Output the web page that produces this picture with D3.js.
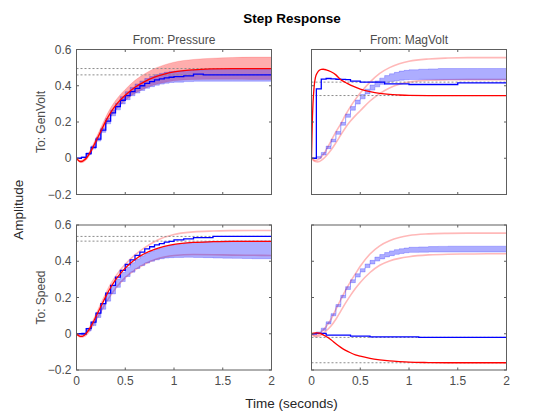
<!DOCTYPE html>
<html><head><meta charset="utf-8">
<script src="https://cdn.jsdelivr.net/npm/d3@7"></script>
<style>body{margin:0;background:#fff}svg{display:block}text{font-family:"Liberation Sans",Arial,sans-serif}</style>
</head><body><svg id="c" width="560" height="420"></svg>
<script>
// ---- data ----
const timeSmooth = [0,0.01,0.02,0.04,0.06,0.08,0.1,0.12,0.15,0.2,0.25,0.3,0.35,0.4,0.45,0.5,0.6,0.7,0.8,0.9,1.0,1.2,1.4,1.6,1.8,2.0];
const timeFast = [0,0.005,0.01,0.015,0.02,0.03,0.04,0.06,0.08,0.1,0.12,0.15,0.2,0.25,0.3,0.35,0.4,0.5,0.6,0.7,0.8,0.9,1.0,1.2,1.5,2.0];
const timeStep = [0,0.05,0.1,0.15,0.2,0.25,0.3,0.35,0.4,0.45,0.5,0.55,0.6,0.65,0.7,0.75,0.8,0.85,0.9,0.95,1.0,1.1,1.2,1.3,1.4,1.5,1.6,1.7,1.8,1.9,2.0];
const inputs = ["Pressure","MagVolt"];
const outputs = ["GenVolt","Speed"];
const xTicks = [0,0.5,1,1.5,2];
const yTicks = [-0.2,0,0.2,0.4,0.6];

// Pressure -> GenVolt
const gvPressRed   = [0,-0.006,-0.012,-0.018,-0.017,-0.01,0,0.015,0.042,0.095,0.15,0.205,0.252,0.29,0.322,0.348,0.392,0.423,0.447,0.464,0.476,0.488,0.493,0.495,0.495,0.495];
const gvPressRedHi = [0,-0.004,-0.008,-0.012,-0.01,-0.002,0.01,0.026,0.055,0.112,0.17,0.228,0.278,0.318,0.352,0.38,0.43,0.466,0.495,0.515,0.53,0.545,0.552,0.556,0.558,0.558];
const gvPressRedLo = [0,-0.008,-0.016,-0.024,-0.024,-0.018,-0.01,0.004,0.03,0.08,0.132,0.184,0.228,0.264,0.294,0.318,0.358,0.385,0.405,0.418,0.427,0.434,0.436,0.436,0.435,0.435];
const gvPressBlue   = [0,0.005,0.025,0.06,0.105,0.155,0.205,0.25,0.285,0.32,0.345,0.368,0.385,0.4,0.413,0.423,0.432,0.438,0.443,0.447,0.45,0.455,0.464,0.46,0.46,0.46,0.46,0.46,0.46,0.46,0.46];
const gvPressBlueHi = [0,0.008,0.03,0.068,0.115,0.167,0.22,0.266,0.303,0.34,0.367,0.391,0.41,0.426,0.44,0.451,0.461,0.468,0.474,0.478,0.481,0.485,0.488,0.489,0.49,0.49,0.49,0.49,0.49,0.49,0.49];
const gvPressBlueLo = [0,0.002,0.02,0.052,0.095,0.143,0.19,0.234,0.267,0.3,0.323,0.345,0.36,0.374,0.386,0.395,0.403,0.409,0.414,0.418,0.42,0.423,0.425,0.425,0.425,0.425,0.425,0.425,0.425,0.425,0.425];
const gvPressFinal = [0.495,0.46];

// MagVolt -> GenVolt
const gvMagRed = [0,0.13,0.23,0.3,0.345,0.41,0.445,0.472,0.485,0.49,0.491,0.488,0.477,0.46,0.433,0.418,0.403,0.382,0.368,0.358,0.352,0.349,0.347,0.346,0.346,0.346];
const gvMagBlue = [0,0.383,0.437,0.44,0.438,0.436,0.435,0.434,0.425,0.425,0.42,0.42,0.42,0.42,0.42,0.41,0.41,0.41,0.41,0.41,0.407,0.407,0.407,0.407,0.407,0.416,0.416,0.416,0.416,0.416,0.416];
const gvMagBandLo = [0,0,0.018,0.053,0.09,0.132,0.182,0.226,0.265,0.299,0.328,0.355,0.376,0.394,0.408,0.418,0.424,0.428,0.431,0.433,0.434,0.435,0.435,0.435,0.435,0.435,0.435,0.435,0.435,0.435,0.435];
const gvMagBandHi = [0,0.01,0.032,0.067,0.105,0.148,0.198,0.244,0.285,0.321,0.352,0.381,0.404,0.426,0.442,0.456,0.466,0.474,0.481,0.485,0.488,0.491,0.493,0.495,0.495,0.495,0.495,0.495,0.495,0.495,0.495];
const gvMagPinkHi = [0,-0.004,-0.008,-0.012,-0.01,-0.004,0.006,0.02,0.045,0.095,0.145,0.19,0.24,0.285,0.325,0.36,0.42,0.468,0.5,0.521,0.535,0.548,0.553,0.555,0.555,0.555];
const gvMagPinkLo = [0,-0.006,-0.012,-0.018,-0.02,-0.018,-0.012,-0.004,0.012,0.045,0.085,0.128,0.17,0.205,0.235,0.262,0.316,0.357,0.388,0.408,0.42,0.43,0.433,0.434,0.434,0.434];
const gvMagFinal = [0.42,0.346];

// Pressure -> Speed
const spPressRed = [0,-0.005,-0.01,-0.015,-0.014,-0.008,0.002,0.016,0.042,0.095,0.15,0.205,0.255,0.297,0.332,0.362,0.41,0.443,0.466,0.482,0.493,0.504,0.508,0.51,0.51,0.51];
const spPressBlue = [0,0,0.028,0.064,0.114,0.166,0.224,0.267,0.312,0.35,0.382,0.408,0.432,0.45,0.468,0.48,0.49,0.497,0.505,0.51,0.518,0.524,0.53,0.53,0.537,0.537,0.537,0.537,0.537,0.537,0.537];
const spPressBandLo = [0,-0.005,0.015,0.045,0.09,0.135,0.18,0.22,0.256,0.288,0.316,0.34,0.36,0.376,0.39,0.4,0.408,0.414,0.418,0.42,0.421,0.422,0.421,0.42,0.418,0.417,0.416,0.415,0.414,0.414,0.414];
const spPressBandHi = [0,0.005,0.03,0.065,0.115,0.165,0.218,0.262,0.302,0.338,0.367,0.392,0.413,0.43,0.445,0.457,0.467,0.475,0.482,0.488,0.493,0.5,0.505,0.508,0.51,0.512,0.512,0.512,0.512,0.512,0.512];
const spPressPinkHi = [0,-0.004,-0.008,-0.012,-0.01,-0.004,0.006,0.022,0.05,0.105,0.163,0.22,0.272,0.315,0.352,0.383,0.435,0.475,0.508,0.532,0.548,0.562,0.567,0.569,0.57,0.57];
const spPressPinkLo = [0,-0.006,-0.012,-0.018,-0.018,-0.014,-0.006,0.006,0.03,0.075,0.122,0.17,0.212,0.25,0.282,0.31,0.352,0.385,0.408,0.423,0.432,0.437,0.436,0.434,0.433,0.432];
const spPressFinal = [0.537,0.511];

// MagVolt -> Speed
const spMagRed = [0,0.002,0.003,0.005,0.005,0.003,-0.001,-0.006,-0.015,-0.033,-0.055,-0.075,-0.092,-0.105,-0.116,-0.124,-0.136,-0.144,-0.15,-0.154,-0.157,-0.159,-0.16,-0.16,-0.16,-0.16];
const spMagBlue = [0,0.002,0.002,-0.008,-0.008,-0.008,-0.008,-0.008,-0.013,-0.013,-0.013,-0.013,-0.017,-0.017,-0.017,-0.017,-0.017,-0.017,-0.017,-0.017,-0.017,-0.02,-0.02,-0.02,-0.02,-0.02,-0.02,-0.02,-0.02,-0.02,-0.02];
const spMagBandLo = [0,0,0.019,0.054,0.099,0.149,0.198,0.244,0.282,0.313,0.341,0.365,0.385,0.401,0.413,0.424,0.431,0.438,0.443,0.447,0.449,0.45,0.451,0.451,0.451,0.451,0.451,0.451,0.451,0.451,0.451];
const spMagBandHi = [0,0.01,0.031,0.066,0.111,0.161,0.212,0.26,0.298,0.331,0.359,0.385,0.405,0.423,0.437,0.448,0.457,0.464,0.469,0.473,0.477,0.479,0.481,0.482,0.483,0.483,0.483,0.483,0.483,0.483,0.483];
const spMagPinkHi = [0,-0.004,-0.007,-0.01,-0.008,-0.002,0.008,0.02,0.04,0.08,0.135,0.188,0.24,0.288,0.33,0.372,0.44,0.485,0.513,0.531,0.542,0.551,0.554,0.555,0.555,0.555];
const spMagPinkLo = [0,-0.006,-0.01,-0.015,-0.015,-0.012,-0.006,0.002,0.016,0.043,0.08,0.125,0.17,0.212,0.25,0.283,0.338,0.378,0.402,0.416,0.425,0.435,0.439,0.44,0.441,0.441];
const spMagFinal = [-0.02,-0.16];

// ---- panels ----
const panels = [
  {r:0,c:0, redT:timeSmooth, red:gvPressRed, redBand:[gvPressRedLo,gvPressRedHi], blue:gvPressBlue, blueBand:[gvPressBlueLo,gvPressBlueHi], finals:gvPressFinal},
  {r:0,c:1, redT:timeFast, red:gvMagRed, pink:[gvMagPinkLo,gvMagPinkHi], blue:gvMagBlue, blueBand:[gvMagBandLo,gvMagBandHi], finals:gvMagFinal},
  {r:1,c:0, redT:timeSmooth, red:spPressRed, pink:[spPressPinkLo,spPressPinkHi], blue:spPressBlue, blueBand:[spPressBandLo,spPressBandHi], finals:spPressFinal},
  {r:1,c:1, redT:timeSmooth, red:spMagRed, pink:[spMagPinkLo,spMagPinkHi], blue:spMagBlue, blueBand:[spMagBandLo,spMagBandHi], finals:spMagFinal}
];

const svg = d3.select("#c");
const colX = [76.5, 311.5], W = 195;
const rowY = [49.5, 225], H = 145;
const axisCol = "#5e5e5e", labCol = "#4d4d4d";

svg.append("text").attr("x",292).attr("y",23).attr("text-anchor","middle")
  .attr("font-size",13.5).attr("font-weight","bold").attr("fill","#000").text("Step Response");
inputs.forEach((s,i)=>svg.append("text").attr("x",colX[i]+W/2).attr("y",44).attr("text-anchor","middle")
  .attr("font-size",12).attr("fill",labCol).text("From: "+s));
outputs.forEach((s,i)=>svg.append("text").attr("transform",`translate(45,${rowY[i]+H/2}) rotate(-90)`)
  .attr("text-anchor","middle").attr("font-size",12).attr("fill",labCol).text("To: "+s));
svg.append("text").attr("transform",`translate(23,${(rowY[0]+rowY[1]+H)/2}) rotate(-90)`)
  .attr("text-anchor","middle").attr("font-size",13.5).attr("fill","#262626").text("Amplitude");
svg.append("text").attr("x",(colX[0]+colX[1]+W)/2).attr("y",408).attr("text-anchor","middle")
  .attr("font-size",13.5).attr("fill","#262626").text("Time (seconds)");

const defs = svg.append("defs");
panels.forEach((p,k)=>{
  const x = d3.scaleLinear().domain([0,2]).range([colX[p.c], colX[p.c]+W]);
  const y = d3.scaleLinear().domain([-0.2,0.6]).range([rowY[p.r]+H, rowY[p.r]]);
  defs.append("clipPath").attr("id","cp"+k).append("rect")
    .attr("x",colX[p.c]).attr("y",rowY[p.r]).attr("width",W).attr("height",H);
  const g = svg.append("g").attr("clip-path",`url(#cp${k})`);
  const stepIdx = d3.range(timeStep.length);
  const smoothIdx = d3.range(p.redT.length);
  const tS = p.redT;

  if (p.redBand) {
    g.append("path").datum(smoothIdx)
      .attr("d", d3.area().curve(d3.curveMonotoneX).x(i=>x(tS[i])).y0(i=>y(p.redBand[0][i])).y1(i=>y(p.redBand[1][i])))
      .attr("fill","rgba(255,0,0,0.32)").attr("stroke","rgba(255,0,0,0.15)").attr("stroke-width",1);
  }
  if (p.pink) {
    p.pink.forEach(arr=>{
      g.append("path").datum(d3.range(timeSmooth.length))
        .attr("d", d3.line().curve(d3.curveMonotoneX).x(i=>x(timeSmooth[i])).y(i=>y(arr[i])))
        .attr("fill","none").attr("stroke","rgba(255,0,0,0.28)").attr("stroke-width",1.6);
    });
  }
  g.append("path").datum(stepIdx)
    .attr("d", d3.area().curve(d3.curveStepAfter).x(i=>x(timeStep[i])).y0(i=>y(p.blueBand[0][i])).y1(i=>y(p.blueBand[1][i])))
    .attr("fill","rgba(0,0,255,0.32)").attr("stroke","rgba(0,0,255,0.22)").attr("stroke-width",1);
  p.finals.forEach(v=>{
    g.append("line").attr("x1",x(0)).attr("x2",x(2)).attr("y1",y(v)).attr("y2",y(v))
      .attr("stroke","#8c8c8c").attr("stroke-width",1).attr("stroke-dasharray","2,2");
  });
  g.append("path").datum(stepIdx)
    .attr("d", d3.line().curve(d3.curveStepAfter).x(i=>x(timeStep[i])).y(i=>y(p.blue[i])))
    .attr("fill","none").attr("stroke","#0000ff").attr("stroke-width",1.3);
  g.append("path").datum(smoothIdx)
    .attr("d", d3.line().curve(d3.curveMonotoneX).x(i=>x(tS[i])).y(i=>y(p.red[i])))
    .attr("fill","none").attr("stroke","#ff0000").attr("stroke-width",1.3);

  const fr = svg.append("g");
  fr.append("rect").attr("x",colX[p.c]).attr("y",rowY[p.r]).attr("width",W).attr("height",H)
    .attr("fill","none").attr("stroke",axisCol).attr("stroke-width",1);
  const tl = 2.5;
  xTicks.forEach(t=>{
    fr.append("line").attr("x1",x(t)).attr("x2",x(t)).attr("y1",rowY[p.r]+H).attr("y2",rowY[p.r]+H-tl).attr("stroke",axisCol);
    fr.append("line").attr("x1",x(t)).attr("x2",x(t)).attr("y1",rowY[p.r]).attr("y2",rowY[p.r]+tl).attr("stroke",axisCol);
    if (p.r===1) fr.append("text").attr("x",x(t)).attr("y",rowY[p.r]+H+15).attr("text-anchor","middle")
      .attr("font-size",12).attr("fill",labCol).text(d3.format("")(t));
  });
  yTicks.forEach(t=>{
    fr.append("line").attr("x1",colX[p.c]).attr("x2",colX[p.c]+tl).attr("y1",y(t)).attr("y2",y(t)).attr("stroke",axisCol);
    fr.append("line").attr("x1",colX[p.c]+W).attr("x2",colX[p.c]+W-tl).attr("y1",y(t)).attr("y2",y(t)).attr("stroke",axisCol);
    if (p.c===0) fr.append("text").attr("x",colX[p.c]-5).attr("y",y(t)+4).attr("text-anchor","end")
      .attr("font-size",12).attr("fill",labCol).text(t===0?"0":d3.format(".1f")(t));
  });
});
</script></body></html>
